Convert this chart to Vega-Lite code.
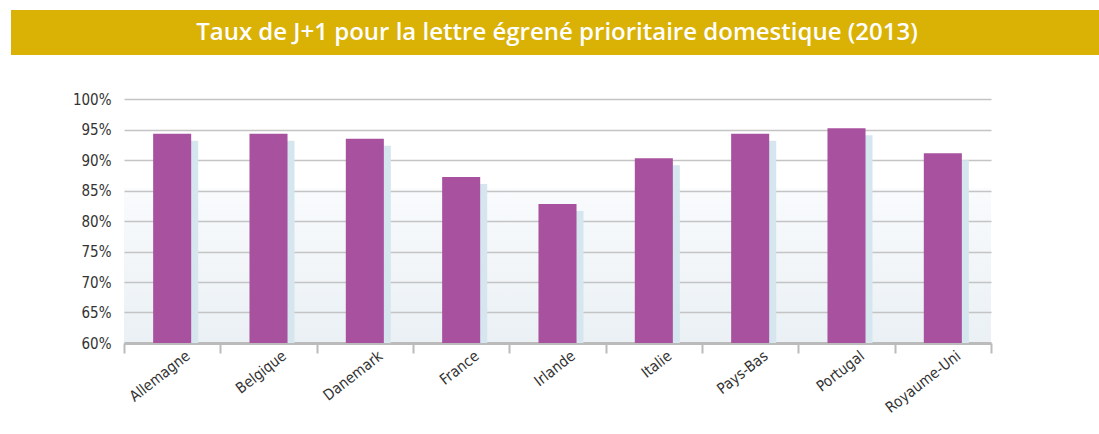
{
  "$schema": "https://vega.github.io/schema/vega-lite/v6.json",
  "padding": {"left": 11, "top": 10, "right": 0, "bottom": 0},
  "background": "white",
  "spacing": 37,
  "config": {"view": {"stroke": null}},
  "datasets": {
    "banner": [{"title": "Taux de J+1 pour la lettre égrené prioritaire domestique (2013)"}],
    "bars": [
      {"pays": "Allemagne", "taux": 0.943},
      {"pays": "Belgique", "taux": 0.943},
      {"pays": "Danemark", "taux": 0.935},
      {"pays": "France", "taux": 0.872},
      {"pays": "Irlande", "taux": 0.828},
      {"pays": "Italie", "taux": 0.903},
      {"pays": "Pays-Bas", "taux": 0.943},
      {"pays": "Portugal", "taux": 0.952},
      {"pays": "Royaume-Uni", "taux": 0.911}
    ]
  },
  "vconcat": [
    {
      "width": 1088,
      "height": 45,
      "view": {"fill": "#DAB105", "stroke": null},
      "data": {"name": "banner"},
      "mark": {"type": "text", "font": "Open Sans", "fontWeight": 600, "fontSize": 24, "fill": "white", "align": "center", "baseline": "middle", "dx": 2},
      "encoding": {"text": {"field": "title"}}
    },
    {
      "spacing": 0,
      "hconcat": [
        {
          "width": 1,
          "height": 244,
          "view": {"fill": null, "stroke": null},
          "data": {"name": "banner"},
          "mark": {"type": "text", "opacity": 0},
          "encoding": {"text": {"value": ""}}
        },
        {
          "width": 867,
          "height": 244,
          "view": {
            "stroke": null,
            "fill": {
              "gradient": "linear", "x1": 0, "y1": 0, "x2": 0, "y2": 1,
              "stops": [
                {"offset": 0, "color": "#FFFFFF"},
                {"offset": 0.36, "color": "#FFFFFF"},
                {"offset": 0.37, "color": "#F9FBFD"},
                {"offset": 1, "color": "#EAF0F4"}
              ]
            }
          },
          "data": {"name": "bars"},
          "encoding": {
            "x": {
              "field": "pays", "type": "nominal", "sort": null,
              "scale": {"paddingInner": 0, "paddingOuter": 0},
              "axis": {
                "title": null, "labelAngle": -38, "labelAlign": "right", "labelBaseline": "top",
                "labelFont": "Liberation Sans Narrow, DejaVu Sans Condensed, sans-serif", "labelFontSize": 15, "labelColor": "#333333",
                "labelOffset": 11, "labelPadding": -5,
                "tickBand": "extent", "tickSize": 10, "tickColor": "#BBBBBB", "tickWidth": 2,
                "domainColor": "#BBBBBB", "domainWidth": 3, "grid": false
              }
            },
            "y": {
              "field": "taux", "type": "quantitative",
              "scale": {"domain": [0.6, 1], "zero": false, "nice": false},
              "axis": {
                "title": null, "format": ".0%", "values": [0.6, 0.65, 0.7, 0.75, 0.8, 0.85, 0.9, 0.95, 1],
                "domain": false, "ticks": false, "labelPadding": 13, "minExtent": 112,
                "labelFont": "Liberation Sans Narrow, DejaVu Sans Condensed, sans-serif", "labelFontSize": 15, "labelColor": "#333333",
                "grid": true, "gridColor": "#C4C4C4", "gridWidth": 1.5
              }
            },
            "y2": {"datum": 0.6}
          },
          "layer": [
            {"mark": {"type": "bar", "color": "#D6E6EF", "xOffset": 7, "yOffset": 7, "y2Offset": 0, "width": {"band": 0.395}}},
            {"mark": {"type": "bar", "color": "#A8529F", "width": {"band": 0.395}}}
          ]
        }
      ]
    }
  ]
}
